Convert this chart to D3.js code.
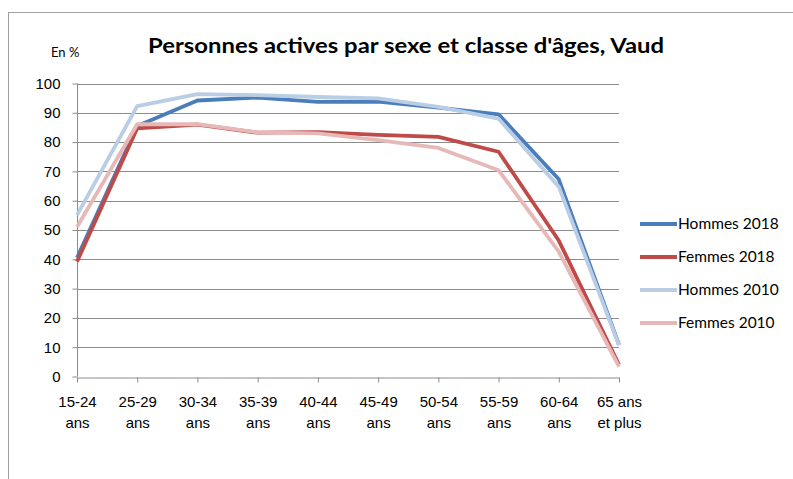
<!DOCTYPE html>
<html>
<head>
<meta charset="utf-8">
<script src="https://cdn.jsdelivr.net/npm/d3@7"></script>
<style>
  body { margin: 0; background: #fff; }
  svg { display: block; font-family: Lato, 'Open Sans', sans-serif; }
  .grid line { stroke: #8c8c8c; stroke-width: 1; }
  .axis path, .axis line { stroke: #8c8c8c; }
  .axis text { fill: #000; font-size: 15px; }
</style>
</head>
<body>
<div id="chart"></div>
<script>
/* global d3 */

// age classes, each label is split on two lines
const categories = [
  ['15-24', 'ans'], ['25-29', 'ans'], ['30-34', 'ans'], ['35-39', 'ans'],
  ['40-44', 'ans'], ['45-49', 'ans'], ['50-54', 'ans'], ['55-59', 'ans'],
  ['60-64', 'ans'], ['65 ans', 'et plus'],
];

const hommes2018 = [40.5, 85.5, 94.2, 95.2, 93.7, 93.8, 91.8, 89.5, 67.3, 10.8];
const femmes2018 = [39.2, 84.7, 86.0, 83.2, 83.4, 82.5, 81.8, 76.7, 46.4, 4.0];
const hommes2010 = [55.1, 92.3, 96.4, 96.0, 95.4, 94.9, 92.0, 88.0, 64.8, 10.6];
const femmes2010 = [51.0, 86.1, 86.1, 83.3, 83.0, 80.7, 78.0, 70.4, 42.6, 3.4];

const seriesNames = ['Hommes 2018', 'Femmes 2018', 'Hommes 2010', 'Femmes 2010'];
const seriesValues = [hommes2018, femmes2018, hommes2010, femmes2010];
const seriesColors = ['#4a7ebb', '#be4b48', '#b9cde5', '#e6b9b8'];

const yTicks = [0, 10, 20, 30, 40, 50, 60, 70, 80, 90, 100];

const width = 793;
const height = 479;

const svg = d3.select('#chart').append('svg')
  .attr('width', width)
  .attr('height', height);

// outer frame of the chart area
svg.append('rect')
  .attr('x', 8.5)
  .attr('y', 12.5)
  .attr('width', 800)
  .attr('height', 500)
  .attr('fill', 'none')
  .attr('stroke', '#a0a0a0');

const x = d3.scalePoint()
  .domain(d3.range(categories.length))
  .range([77, 619]);

const y = d3.scaleLinear()
  .domain([0, 100])
  .range([376.5, 83.5]);

// horizontal gridlines
svg.append('g')
  .attr('class', 'grid')
  .selectAll('line')
  .data(yTicks.filter(d => d > 0))
  .enter()
  .append('line')
  .attr('x1', 77)
  .attr('x2', 619)
  .attr('y1', d => Math.round(y(d)) + 0.5)
  .attr('y2', d => Math.round(y(d)) + 0.5);

// y axis
const yAxis = svg.append('g')
  .attr('class', 'axis')
  .attr('transform', 'translate(77.5,0)')
  .call(d3.axisLeft(y).tickValues(yTicks).tickSize(5).tickPadding(12));
yAxis.select('.domain').attr('d', `M0,${y(100)}V${y(0)}`);

// x axis, labels on two lines
const xAxis = svg.append('g')
  .attr('class', 'axis')
  .attr('transform', `translate(0,${Math.round(y(0)) + 0.5})`)
  .call(d3.axisBottom(x).tickSize(5).tickSizeOuter(0).tickFormat(''));

xAxis.selectAll('.tick text').remove();
xAxis.selectAll('.tick')
  .append('text')
  .attr('text-anchor', 'middle')
  .selectAll('tspan')
  .data(i => categories[i])
  .enter()
  .append('tspan')
  .attr('x', 0)
  .attr('y', (d, j) => 29 + j * 21)
  .text(d => d);

// the four lines
const line = d3.line()
  .x((d, i) => x(i))
  .y(d => y(d));

svg.append('g')
  .selectAll('path')
  .data(seriesValues)
  .enter()
  .append('path')
  .attr('d', d => line(d))
  .attr('fill', 'none')
  .attr('stroke', (d, i) => seriesColors[i])
  .attr('stroke-width', 3.8)
  .attr('stroke-linejoin', 'round');

// legend
const legend = svg.append('g')
  .selectAll('g')
  .data(seriesNames)
  .enter()
  .append('g')
  .attr('transform', (d, i) => `translate(640,${224 + i * 33})`);

legend.append('line')
  .attr('x1', 0)
  .attr('x2', 37)
  .attr('stroke', (d, i) => seriesColors[i])
  .attr('stroke-width', 3.8);

legend.append('text')
  .attr('x', 38)
  .attr('dy', '0.35em')
  .style('font-size', '15.5px')
  .text(d => d);

// title and unit
svg.append('text')
  .attr('x', 406)
  .attr('y', 53)
  .attr('text-anchor', 'middle')
  .attr('textLength', 516)
  .attr('lengthAdjust', 'spacingAndGlyphs')
  .style('font-size', '21.5px')
  .style('font-weight', 'bold')
  .text('Personnes actives par sexe et classe d\'âges, Vaud');

svg.append('text')
  .attr('x', 51)
  .attr('y', 57)
  .style('font-size', '13px')
  .text('En %');
</script>
</body>
</html>
